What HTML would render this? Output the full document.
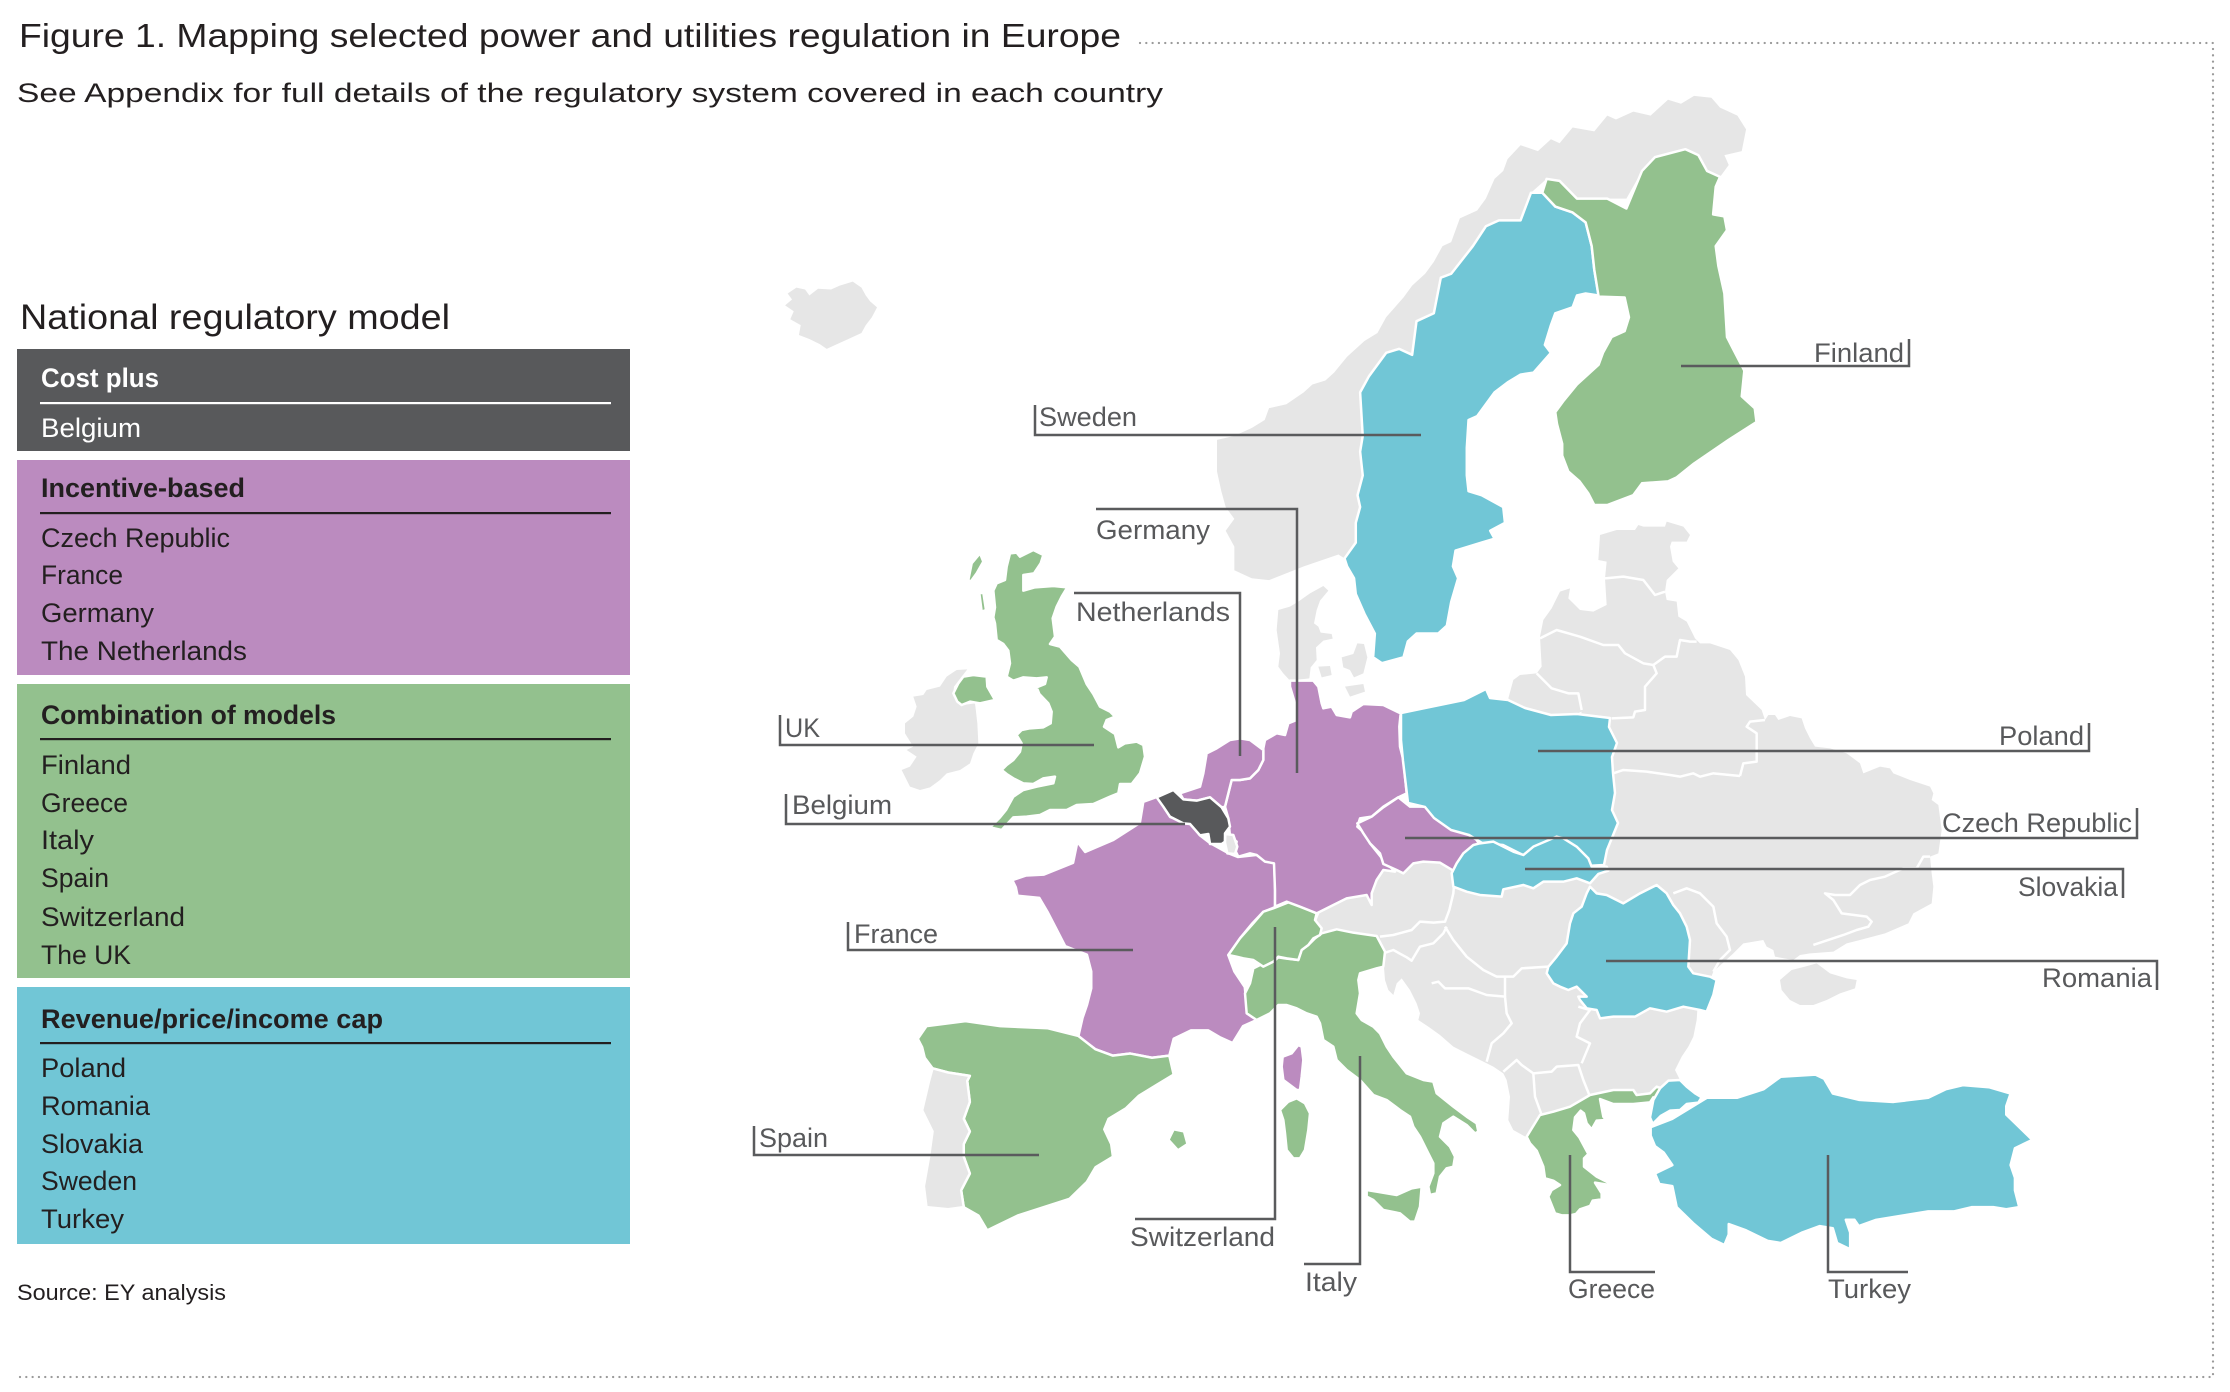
<!DOCTYPE html>
<html><head><meta charset="utf-8"><style>
html,body{margin:0;padding:0;background:#fff;}
svg{display:block;}
text{font-family:"Liberation Sans",sans-serif;}
</style></head><body>
<svg width="2230" height="1392" viewBox="0 0 2230 1392" xmlns="http://www.w3.org/2000/svg">
<rect width="2230" height="1392" fill="#fff"/>
<text x="19" y="47" font-size="33" fill="#231f20" textLength="1102" lengthAdjust="spacingAndGlyphs">Figure 1. Mapping selected power and utilities regulation in Europe</text>
<text x="17" y="102" font-size="27" fill="#231f20" textLength="1146" lengthAdjust="spacingAndGlyphs">See Appendix for full details of the regulatory system covered in each country</text>
<path d="M1140 43 H2213 V1377 H17" fill="none" stroke="#9a9a9a" stroke-width="2.3" stroke-dasharray="0.01 6.3" stroke-linecap="round"/>

<text x="20" y="329" font-size="35" fill="#231f20" textLength="430" lengthAdjust="spacingAndGlyphs">National regulatory model</text>
<rect x="17" y="349" width="613" height="102" fill="#58595b"/>
<text x="41" y="387" font-size="27" font-weight="bold" fill="#fff" textLength="118" lengthAdjust="spacingAndGlyphs">Cost plus</text>
<rect x="40" y="402" width="571" height="2.2" fill="#fff"/>
<text x="41" y="437" font-size="27" fill="#fff" textLength="100" lengthAdjust="spacingAndGlyphs">Belgium</text>

<rect x="17" y="460" width="613" height="215" fill="#bb8bbf"/>
<text x="41" y="497" font-size="27" font-weight="bold" fill="#231f20" textLength="204" lengthAdjust="spacingAndGlyphs">Incentive-based</text>
<rect x="40" y="512" width="571" height="2.2" fill="#231f20"/>
<text x="41" y="547" font-size="27" fill="#231f20" textLength="189" lengthAdjust="spacingAndGlyphs">Czech Republic</text>
<text x="41" y="584" font-size="27" fill="#231f20" textLength="82" lengthAdjust="spacingAndGlyphs">France</text>
<text x="41" y="622" font-size="27" fill="#231f20" textLength="113" lengthAdjust="spacingAndGlyphs">Germany</text>
<text x="41" y="660" font-size="27" fill="#231f20" textLength="206" lengthAdjust="spacingAndGlyphs">The Netherlands</text>

<rect x="17" y="684" width="613" height="294" fill="#93c18e"/>
<text x="41" y="724" font-size="27" font-weight="bold" fill="#231f20" textLength="295" lengthAdjust="spacingAndGlyphs">Combination of models</text>
<rect x="40" y="738" width="571" height="2.2" fill="#231f20"/>
<text x="41" y="774" font-size="27" fill="#231f20" textLength="90" lengthAdjust="spacingAndGlyphs">Finland</text>
<text x="41" y="812" font-size="27" fill="#231f20" textLength="87" lengthAdjust="spacingAndGlyphs">Greece</text>
<text x="41" y="849" font-size="27" fill="#231f20" textLength="53" lengthAdjust="spacingAndGlyphs">Italy</text>
<text x="41" y="887" font-size="27" fill="#231f20" textLength="68" lengthAdjust="spacingAndGlyphs">Spain</text>
<text x="41" y="926" font-size="27" fill="#231f20" textLength="144" lengthAdjust="spacingAndGlyphs">Switzerland</text>
<text x="41" y="964" font-size="27" fill="#231f20" textLength="90" lengthAdjust="spacingAndGlyphs">The UK</text>

<rect x="17" y="987" width="613" height="257" fill="#71c6d6"/>
<text x="41" y="1028" font-size="27" font-weight="bold" fill="#231f20" textLength="342" lengthAdjust="spacingAndGlyphs">Revenue/price/income cap</text>
<rect x="40" y="1042" width="571" height="2.2" fill="#231f20"/>
<text x="41" y="1077" font-size="27" fill="#231f20" textLength="85" lengthAdjust="spacingAndGlyphs">Poland</text>
<text x="41" y="1115" font-size="27" fill="#231f20" textLength="109" lengthAdjust="spacingAndGlyphs">Romania</text>
<text x="41" y="1153" font-size="27" fill="#231f20" textLength="102" lengthAdjust="spacingAndGlyphs">Slovakia</text>
<text x="41" y="1190" font-size="27" fill="#231f20" textLength="96" lengthAdjust="spacingAndGlyphs">Sweden</text>
<text x="41" y="1228" font-size="27" fill="#231f20" textLength="83" lengthAdjust="spacingAndGlyphs">Turkey</text>
<text x="17" y="1300" font-size="22" fill="#231f20" textLength="209" lengthAdjust="spacingAndGlyphs">Source: EY analysis</text>

<!-- ===== MAP: gray land ===== -->
<g fill="#e6e6e6" stroke="none">
 <g transform="translate(740 80) scale(0.8673 0.3954)">
  <polygon points="55,540 65,525 75,530 80,545 90,528 105,530 115,520 130,510 140,525 145,545 150,560 158,575 152,600 145,620 140,640 125,655 110,670 100,680 92,668 80,655 68,645 70,620 58,605 62,585 52,570 60,555"/>
  <polygon points="1100,40 1120,45 1130,70 1150,90 1160,125 1155,180 1135,190 1140,215 1130,245 1115,230 1105,190 1090,175 1055,195 1040,230 1022,300 1000,300 965,300 945,255 930,250 912,285 900,355 875,355 860,370 845,420 820,490 808,500 800,590 780,610 775,695 760,680 745,690 725,750 715,790 718,900 715,940 718,1000 712,1050 715,1080 710,1120 710,1170 697,1210 690,1200 650,1230 610,1265 590,1260 570,1240 570,1180 560,1140 570,1110 560,1080 555,1040 550,990 550,910 570,900 590,880 605,860 610,830 630,820 650,790 660,770 675,760 685,740 700,700 720,660 735,640 745,600 765,550 775,520 790,490 800,460 810,420 820,410 825,380 830,350 850,330 860,300 870,250 880,230 885,200 900,165 920,180 935,150 945,160 960,120 985,130 1000,90 1010,100 1030,80 1050,90 1070,50 1085,60"/>
 </g>
 <g transform="translate(880 530) scale(0.33333)">
  <polygon points="100,500 130,495 140,480 180,470 200,440 230,420 262,418 245,440 222,470 220,490 232,520 250,525 285,520 288,545 292,580 295,640 280,670 270,700 240,720 200,730 180,750 150,772 120,780 90,770 65,720 90,710 110,680 80,660 100,650 75,610 75,580 100,560 110,530"/>
 </g>
 <g transform="translate(1220 880) scale(0.33333)">
  <polygon points="300,95 295,-60 1430,-60 1445,200 1432,390 1430,420 1420,470 1405,500 1385,530 1365,570 1380,600 1340,605 1300,638 1180,652 1110,660 1050,700 960,720 925,775 880,750 865,720 870,650 860,600 850,580 820,560 790,545 740,520 700,500 660,465 625,440 595,420 600,400 590,370 570,330 545,295 530,310 520,345 505,330 495,300 492,262 450,230 400,200 350,190 305,180 280,160 290,120"/>
 </g>
 <g transform="translate(1480 480) scale(0.33333)">
  <polygon points="360,165 410,150 465,150 475,135 490,140 555,140 560,125 610,140 630,165 620,185 575,185 570,200 578,245 595,265 560,300 555,335 560,360 590,365 595,410 620,425 645,475 660,490 690,490 750,510 775,540 795,590 798,645 845,690 855,720 865,705 885,705 895,720 930,708 965,715 975,745 990,775 1005,800 1050,805 1100,820 1140,850 1150,880 1200,860 1230,865 1240,880 1290,900 1350,920 1360,940 1355,960 1375,975 1385,1050 1375,1120 1350,1130 1355,1180 1360,1220 1355,1270 1300,1300 1285,1330 1215,1360 1140,1380 1100,1390 1060,1415 990,1420 960,1425 940,1440 885,1430 880,1410 860,1400 850,1380 790,1390 760,1420 700,1475 690,1500 600,1500 400,1300 200,1200 250,1000 300,720 305,695 275,708 215,708 160,695 110,680 85,655 100,600 120,585 170,580 185,560 180,470 190,420 215,385 240,335 270,325 265,355 300,390 340,395 380,375 375,295 380,245 355,240"/>
  <polygon points="900,1500 935,1470 975,1460 1010,1450 1050,1480 1100,1495 1130,1500 1125,1525 1080,1540 1040,1560 1000,1575 960,1575 930,1560 905,1530"/>
 </g>
 <g transform="translate(1150 560) scale(0.33333)">
  <polygon points="385,150 420,140 445,125 480,100 520,78 535,92 510,122 500,150 492,190 505,200 512,218 545,222 548,236 520,242 498,262 500,300 482,322 478,355 420,362 400,340 385,320 390,280 380,210"/>
  <polygon points="575,292 610,282 622,250 642,252 652,292 640,340 612,352 600,330 580,322"/>
  <polygon points="505,320 540,318 545,345 515,352"/>
  <polygon points="585,380 640,372 645,395 600,410"/>
 </g>
</g>
<!-- internal gray borders -->
<g fill="none" stroke="#fff" stroke-width="2.5" stroke-linejoin="round">
 <g transform="translate(1480 480) scale(0.33333)">
  <polyline vector-effect="non-scaling-stroke" points="375,295 430,290 490,300 525,345 555,335"/>
  <polyline vector-effect="non-scaling-stroke" points="180,475 230,450 300,470 370,495 415,495 435,520 490,550 520,555 555,530 590,530 600,480 630,485 650,485"/>
  <polyline vector-effect="non-scaling-stroke" points="170,580 215,625 265,640 295,640 305,690"/>
  <polyline vector-effect="non-scaling-stroke" points="520,555 530,580 495,620 495,690 465,695 460,712 395,715"/>
  <polyline vector-effect="non-scaling-stroke" points="855,720 810,725 800,740 830,760 830,845 790,850 780,888"/>
  <polyline vector-effect="non-scaling-stroke" points="400,880 430,870 500,875 570,885 600,890 640,880 660,890 700,880 780,888"/>
  <polyline vector-effect="non-scaling-stroke" points="1350,1130 1330,1130 1310,1165 1270,1165 1215,1190 1170,1200 1140,1215 1110,1245 1065,1245 1035,1240 1060,1260 1085,1300 1160,1310 1175,1325 1165,1340 1130,1350 1090,1365 1000,1395"/>
  <polyline vector-effect="non-scaling-stroke" points="580,1240 620,1225 660,1240 700,1280 710,1330 740,1370 750,1410 720,1440 700,1475"/>
 </g>
 <g transform="translate(1220 880) scale(0.33333)">
  <polyline vector-effect="non-scaling-stroke" points="705,-20 700,40 688,90 675,125 640,128 600,125 575,150 520,165 480,170"/>
  <polyline vector-effect="non-scaling-stroke" points="490,220 520,210 560,232 575,242 600,200 640,190 670,160 680,140"/>
  <polyline vector-effect="non-scaling-stroke" points="675,140 700,180 740,230 790,270 830,290 880,290 905,265 985,260"/>
  <polyline vector-effect="non-scaling-stroke" points="635,310 655,305 675,325 745,325 800,345 855,350 860,400 875,430 850,460 815,490 800,545"/>
  <polyline vector-effect="non-scaling-stroke" points="855,290 855,350"/>
  <polyline vector-effect="non-scaling-stroke" points="850,575 890,540 905,555 940,580 995,575 1010,560 1075,555 1090,600 1110,650"/>
  <polyline vector-effect="non-scaling-stroke" points="1075,380 1110,390 1080,430 1070,470 1110,490 1085,550"/>
  <polyline vector-effect="non-scaling-stroke" points="940,580 945,650 965,705"/>
 </g>
</g>

<!-- ===== colored countries ===== -->
<g stroke="#fff" stroke-width="2.5" stroke-linejoin="round">
 <g transform="translate(740 660) scale(0.8673 0.4209)">
  <!-- France -->
  <polygon vector-effect="non-scaling-stroke" fill="#bb8bbf" points="314,523 330,512 350,510 384,482 389,432 398,456 430,428 461,387 465,337 481,325 496,373 519,387 530,416 542,435 563,459 574,468 596,463 616,482 617,546 617,587 603,599 591,625 577,660 563,701 570,740 582,777 585,839 596,855 580,870 568,910 553,896 540,880 520,880 500,900 495,940 475,945 450,935 430,940 410,925 390,895 395,850 400,820 405,780 405,740 400,700 375,680 365,640 355,600 345,565 320,560 318,540"/>
  <!-- Spain -->
  <polygon vector-effect="non-scaling-stroke" fill="#93c18e" points="205,900 215,870 260,858 300,870 355,875 390,893 410,925 430,940 450,935 475,945 495,940 500,985 480,1010 460,1035 445,1065 425,1090 420,1115 428,1150 430,1180 410,1205 400,1240 380,1280 350,1300 320,1320 295,1345 285,1355 275,1320 258,1300 255,1260 265,1220 258,1180 258,1150 265,1120 258,1090 265,1050 262,1000 265,988 240,980 222,970 213,945 210,920"/>
  <polygon vector-effect="non-scaling-stroke" fill="#93c18e" points="500,1115 512,1120 516,1150 505,1165 494,1140"/>
  <!-- Portugal -->
  <polygon vector-effect="non-scaling-stroke" fill="#e6e6e6" points="222,970 240,980 265,988 262,1000 265,1050 258,1090 265,1120 258,1150 258,1180 265,1220 255,1260 258,1300 240,1305 215,1300 212,1250 218,1180 222,1120 210,1070 218,1000"/>
 </g>
 <g transform="translate(1220 880) scale(0.33333)">
  <!-- Italy -->
  <polygon vector-effect="non-scaling-stroke" fill="#93c18e" points="100,265 120,255 160,245 175,232 200,236 235,240 245,210 265,195 285,175 305,160 350,148 400,158 470,168 495,215 490,260 470,265 420,280 415,300 420,340 410,400 425,420 460,440 480,460 500,500 520,530 560,580 610,600 640,605 650,640 700,680 740,710 770,730 775,755 765,760 740,735 700,710 670,730 660,770 690,800 705,830 700,860 680,865 660,890 650,940 630,945 625,920 640,880 640,850 620,810 600,770 580,740 570,710 540,690 500,660 460,645 420,600 380,570 350,540 340,500 310,480 300,430 290,410 260,400 230,385 200,375 175,375 150,400 110,420 95,410 80,400 75,340 90,310"/>
  <polygon vector-effect="non-scaling-stroke" fill="#93c18e" points="440,930 470,935 530,945 575,925 605,920 600,980 585,1025 570,1025 540,1000 490,990 460,960 440,950"/>
  <polygon vector-effect="non-scaling-stroke" fill="#93c18e" points="180,690 205,665 230,655 255,670 270,700 265,750 255,810 240,835 220,835 200,810 195,760 190,720"/>
  <!-- Corsica -->
  <polygon vector-effect="non-scaling-stroke" fill="#bb8bbf" points="188,530 215,520 235,495 245,500 250,540 245,590 240,630 230,630 210,615 190,600 185,560"/>
  <!-- Switzerland -->
  <polygon vector-effect="non-scaling-stroke" fill="#93c18e" points="25,225 60,175 100,130 130,95 160,85 210,65 250,80 290,100 285,120 305,145 300,165 280,175 265,195 245,210 235,240 200,235 175,230 160,245 130,260 100,240 70,235 50,230"/>
 </g>
 <g transform="translate(1150 560) scale(0.33333)">
  <!-- Germany -->
  <polygon vector-effect="non-scaling-stroke" fill="#bb8bbf" points="420,362 490,362 505,380 515,430 520,445 545,440 560,465 600,472 605,455 640,432 700,435 752,460 748,500 750,560 760,600 765,650 770,700 745,712 700,740 665,770 630,775 622,800 645,820 660,850 700,900 735,935 700,930 680,960 665,1000 665,1035 650,1005 590,1015 550,1035 500,1060 450,1040 410,1025 375,1040 375,990 372,910 345,905 320,885 300,880 265,890 255,870 260,845 240,830 235,775 225,740 235,700 245,660 270,660 300,655 325,630 340,600 340,565 345,540 380,520 405,525 415,490 440,480 435,430 420,380"/>
  <!-- Netherlands -->
  <polygon vector-effect="non-scaling-stroke" fill="#bb8bbf" points="160,640 170,580 200,565 240,540 270,535 300,540 320,555 340,570 340,600 325,630 300,655 270,660 245,660 235,700 225,740 215,742 180,712 140,722 100,718 90,700 150,680"/>
  <!-- Belgium -->
  <polygon vector-effect="non-scaling-stroke" fill="#58595b" points="20,712 70,690 100,718 140,722 180,712 215,742 235,775 240,800 225,820 225,845 215,852 180,852 175,822 150,826 120,792 100,790 60,770 40,740"/>
  <!-- Luxembourg -->
  <polygon vector-effect="non-scaling-stroke" fill="#e6e6e6" points="226,822 250,825 262,860 255,882 232,880 225,848"/>
  <!-- Czech -->
  <polygon vector-effect="non-scaling-stroke" fill="#bb8bbf" points="622,790 665,770 700,742 745,712 780,740 830,740 870,770 900,790 940,790 960,810 990,855 960,870 935,895 910,932 870,908 820,905 790,910 760,940 740,930 700,912 690,880 660,850 640,820"/>
 </g>
 <!-- Poland -->
 <polygon vector-effect="non-scaling-stroke" fill="#71c6d6" points="1401,713 1425,708 1464,700 1486,689 1490,698 1508,700 1525,708 1551,715 1577,714 1610,718 1609,727 1617,743 1612,757 1613,773 1615,793 1612,810 1618,823 1607,850 1604,865 1586,866 1573,858 1560,839 1542,852 1525,856 1503,845 1482,843 1469,835 1451,830 1434,818 1425,807 1408,803 1406,786 1403,761 1401,740"/>
 <g transform="translate(1480 480) scale(0.33333)">
  <!-- Slovakia -->
  <polygon vector-effect="non-scaling-stroke" fill="#71c6d6" points="-85,1180 -70,1150 -50,1120 -20,1095 0,1090 40,1085 100,1115 130,1125 160,1100 230,1070 250,1075 290,1100 325,1135 335,1160 380,1160 385,1172 355,1182 330,1210 290,1195 250,1205 190,1205 160,1225 130,1215 70,1228 65,1250 0,1245 -40,1235 -80,1220"/>
 </g>
 <g transform="translate(1220 880) scale(0.33333)">
  <!-- Romania -->
  <polygon vector-effect="non-scaling-stroke" fill="#71c6d6" points="985,260 1010,230 1040,190 1050,130 1060,100 1085,80 1100,40 1110,20 1130,40 1160,45 1210,70 1260,40 1310,15 1340,40 1360,75 1380,100 1400,140 1410,180 1405,260 1420,280 1470,290 1490,300 1480,345 1460,395 1440,390 1390,380 1340,395 1290,385 1245,410 1180,410 1140,415 1130,390 1100,385 1080,360 1075,350 1100,350 1070,320 1045,330 1020,320 1000,310 980,280"/>
  <!-- Greece -->
  <polygon vector-effect="non-scaling-stroke" fill="#93c18e" points="920,770 960,705 1000,695 1050,680 1110,645 1180,630 1240,630 1250,645 1290,640 1310,620 1340,630 1345,650 1320,662 1300,652 1290,667 1240,672 1180,672 1140,657 1150,710 1158,720 1130,722 1115,748 1100,730 1092,700 1082,692 1065,712 1060,750 1078,772 1105,822 1092,835 1092,860 1130,890 1185,918 1150,912 1125,908 1145,940 1145,958 1118,962 1110,978 1080,988 1068,1002 1050,1006 1025,1006 1005,1000 985,950 995,930 1020,915 1000,902 975,895 970,860 950,812 930,790"/>
  <!-- Turkey Thrace -->
  <polygon vector-effect="non-scaling-stroke" fill="#71c6d6" points="1300,660 1320,625 1345,602 1380,600 1400,620 1425,640 1445,652 1435,668 1400,672 1380,690 1350,692 1322,708 1298,732 1290,712"/>
 </g>
 <g transform="translate(740 660) scale(0.8673 0.4209)">
  <!-- Turkey Anatolia -->
  <polygon vector-effect="non-scaling-stroke" fill="#71c6d6" points="1050,1110 1075,1090 1115,1040 1150,1040 1180,1020 1200,990 1240,985 1250,995 1260,1030 1290,1045 1330,1050 1370,1040 1390,1020 1410,1010 1440,1015 1465,1030 1460,1060 1460,1080 1470,1100 1490,1140 1480,1150 1470,1160 1465,1200 1470,1230 1470,1260 1475,1300 1460,1305 1445,1300 1420,1300 1400,1310 1370,1310 1340,1320 1310,1330 1290,1345 1285,1330 1275,1330 1280,1360 1280,1400 1265,1385 1260,1350 1245,1345 1225,1360 1200,1385 1185,1380 1160,1355 1140,1340 1140,1365 1135,1390 1120,1375 1100,1340 1080,1300 1075,1250 1060,1245 1055,1220 1075,1200 1065,1170 1055,1155 1050,1130"/>
 </g>
 <g transform="translate(880 530) scale(0.33333)">
  <!-- Great Britain -->
  <polygon vector-effect="non-scaling-stroke" fill="#93c18e" points="390,70 410,68 420,80 460,60 490,75 482,100 462,130 430,135 430,182 465,172 520,168 562,172 545,200 530,230 518,265 525,320 510,342 540,350 575,390 598,410 620,462 640,492 660,530 690,545 705,560 680,570 672,590 705,612 715,652 735,640 770,635 790,645 795,680 780,730 755,762 720,762 715,790 690,800 640,822 590,825 560,840 510,840 480,855 440,860 400,862 365,900 330,892 360,862 378,840 400,800 430,780 470,770 520,760 525,740 490,745 460,762 430,760 400,745 380,732 365,720 380,705 400,690 420,665 425,640 410,615 425,600 450,595 490,592 512,580 515,545 505,520 478,492 470,472 495,462 500,442 470,445 430,442 400,452 380,440 390,400 385,362 370,342 350,330 345,280 340,262 345,232 340,182 350,160 375,150 380,110"/>
  <polygon vector-effect="non-scaling-stroke" fill="#93c18e" points="265,150 275,100 300,70 310,95 290,130 272,155"/>
  <polygon vector-effect="non-scaling-stroke" fill="#93c18e" points="298,190 310,188 318,240 305,245"/>
  <!-- Northern Ireland -->
  <polygon vector-effect="non-scaling-stroke" fill="#93c18e" points="220,490 235,460 250,440 280,435 320,440 322,470 345,510 300,520 270,515 245,525 232,515"/>
 </g>
 <g transform="translate(740 80) scale(0.8673 0.3954)">
  <!-- Sweden -->
  <polygon vector-effect="non-scaling-stroke" fill="#71c6d6" points="912,285 925,285 940,320 960,335 975,360 982,420 985,480 990,545 975,540 965,545 960,575 940,590 935,620 928,670 935,690 915,740 900,745 885,765 870,790 860,820 850,850 840,860 838,930 838,1000 840,1040 855,1050 880,1080 882,1120 865,1140 870,1160 855,1170 825,1190 822,1230 828,1260 820,1320 815,1380 805,1400 780,1400 770,1420 765,1460 740,1475 730,1460 732,1400 720,1350 710,1300 708,1260 700,1230 697,1210 710,1170 710,1120 715,1080 712,1050 718,1000 715,940 718,900 715,790 725,750 745,690 760,680 775,695 780,610 800,590 808,500 820,490 845,420 860,370 875,355 900,355"/>
  <!-- Finland -->
  <polygon vector-effect="non-scaling-stroke" fill="#93c18e" points="925,285 930,250 945,255 965,300 1000,300 1022,325 1040,230 1055,195 1090,175 1105,190 1115,230 1130,245 1125,270 1122,340 1135,345 1138,380 1125,420 1128,470 1135,540 1138,650 1145,680 1158,735 1155,800 1170,830 1172,865 1140,910 1100,970 1080,1005 1070,1015 1040,1020 1030,1050 1000,1075 985,1075 978,1045 968,1015 955,990 948,950 948,920 942,870 940,840 950,810 965,770 990,720 995,690 1005,650 1020,635 1025,600 1020,550 990,548 985,480 982,420 975,360 960,335 940,320"/>
 </g>
</g>

<!-- ===== leader lines ===== -->
<g fill="none" stroke="#5a5b5d" stroke-width="2.5">
 <path d="M1681 366 H1909 V339"/>
 <path d="M1421 435 H1035 V405"/>
 <path d="M1096 509 H1297 V773"/>
 <path d="M1074 593 H1240 V756"/>
 <path d="M1094 745 H780 V715"/>
 <path d="M1185 824 H786 V794"/>
 <path d="M1133 950 H848 V922"/>
 <path d="M1039 1155 H754 V1126"/>
 <path d="M1275 927 V1219 H1135"/>
 <path d="M1360 1056 V1264 H1304"/>
 <path d="M1570 1155 V1272 H1655"/>
 <path d="M1828 1155 V1272 H1908"/>
 <path d="M1538 751 H2089 V723"/>
 <path d="M1405 838 H2137 V808"/>
 <path d="M1525 869 H2123 V898"/>
 <path d="M1606 961 H2157 V990"/>
</g>
<g font-size="27" fill="#58595b">
 <text x="1814" y="362" textLength="90" lengthAdjust="spacingAndGlyphs">Finland</text>
 <text x="1039" y="426" textLength="98" lengthAdjust="spacingAndGlyphs">Sweden</text>
 <text x="1096" y="539" textLength="114" lengthAdjust="spacingAndGlyphs">Germany</text>
 <text x="1076" y="621" textLength="154" lengthAdjust="spacingAndGlyphs">Netherlands</text>
 <text x="785" y="737" textLength="35" lengthAdjust="spacingAndGlyphs">UK</text>
 <text x="792" y="814" textLength="100" lengthAdjust="spacingAndGlyphs">Belgium</text>
 <text x="854" y="943" textLength="84" lengthAdjust="spacingAndGlyphs">France</text>
 <text x="759" y="1147" textLength="69" lengthAdjust="spacingAndGlyphs">Spain</text>
 <text x="1130" y="1246" textLength="145" lengthAdjust="spacingAndGlyphs">Switzerland</text>
 <text x="1305" y="1291" textLength="52" lengthAdjust="spacingAndGlyphs">Italy</text>
 <text x="1568" y="1298" textLength="87" lengthAdjust="spacingAndGlyphs">Greece</text>
 <text x="1828" y="1298" textLength="83" lengthAdjust="spacingAndGlyphs">Turkey</text>
 <text x="1999" y="745" textLength="85" lengthAdjust="spacingAndGlyphs">Poland</text>
 <text x="1942" y="832" textLength="190" lengthAdjust="spacingAndGlyphs">Czech Republic</text>
 <text x="2018" y="896" textLength="100" lengthAdjust="spacingAndGlyphs">Slovakia</text>
 <text x="2042" y="987" textLength="110" lengthAdjust="spacingAndGlyphs">Romania</text>
</g>
</svg>
</body></html>
